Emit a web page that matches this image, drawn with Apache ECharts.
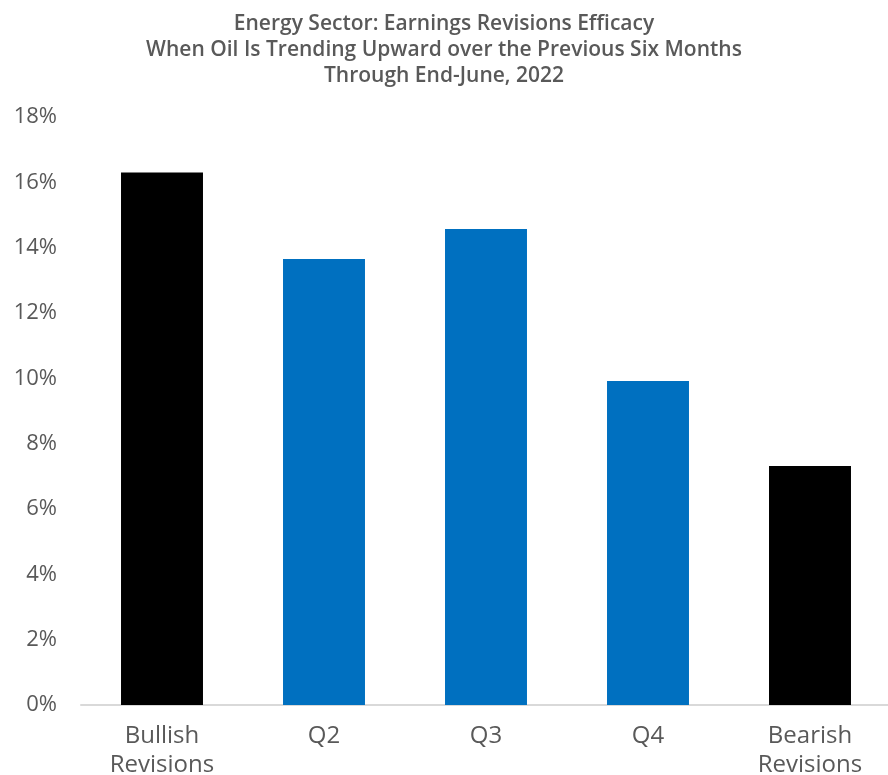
<!DOCTYPE html>
<html>
<head>
<meta charset="utf-8">
<script src="https://cdn.jsdelivr.net/npm/echarts@6/dist/echarts.min.js"></script>
<style>
  html, body { margin: 0; padding: 0; background: #ffffff; }
  #chart { width: 888px; height: 775px; }
</style>
</head>
<body>
<div id="chart"></div>
<script>
// Categories along the x axis
const categories = ['Bullish\nRevisions', 'Q2', 'Q3', 'Q4', 'Bearish\nRevisions'];
// Average return per bucket, in percent
const values = [16.3, 13.65, 14.57, 9.92, 7.32];
// Bar fill per bucket: extremes in black, quarters in blue
const barColors = ['#000000', '#0070c0', '#0070c0', '#0070c0', '#000000'];
// Value axis range and step
const yMin = 0, yMax = 18, yStep = 2;

const titleLines = [
  'Energy Sector: Earnings Revisions Efficacy',
  'When Oil Is Trending Upward over the Previous Six Months',
  'Through End-June, 2022'
];

const font = '"Open Sans", "Noto Sans", sans-serif';
const chart = echarts.init(document.getElementById('chart'), null, { renderer: 'canvas' });

chart.setOption({
  animation: false,
  backgroundColor: '#ffffff',
  title: {
    text: titleLines.join('\n'),
    left: 'center',
    top: 6,
    textStyle: {
      fontFamily: font,
      fontSize: 21,
      fontWeight: 600,
      color: '#595959',
      lineHeight: 26
    }
  },
  grid: { left: 81, width: 810, top: 117, bottom: 70, outerBoundsMode: 'none', containLabel: false },
  xAxis: {
    type: 'category',
    data: categories,
    axisLine: { lineStyle: { color: '#d9d9d9', width: 2 } },
    axisTick: { show: false },
    axisLabel: {
      fontFamily: font,
      fontSize: 24,
      color: '#595959',
      lineHeight: 29,
      margin: 17
    }
  },
  yAxis: {
    type: 'value',
    min: yMin,
    max: yMax,
    interval: yStep,
    splitLine: { show: false },
    axisLine: { show: false },
    axisTick: { show: false },
    axisLabel: {
      formatter: v => v + '%',
      fontFamily: font,
      fontSize: 22,
      color: '#595959',
      margin: 24
    }
  },
  series: [{
    type: 'bar',
    barWidth: '50.6%',
    data: values.map((v, i) => ({ value: v, itemStyle: { color: barColors[i] } }))
  }]
});
</script>
</body>
</html>
